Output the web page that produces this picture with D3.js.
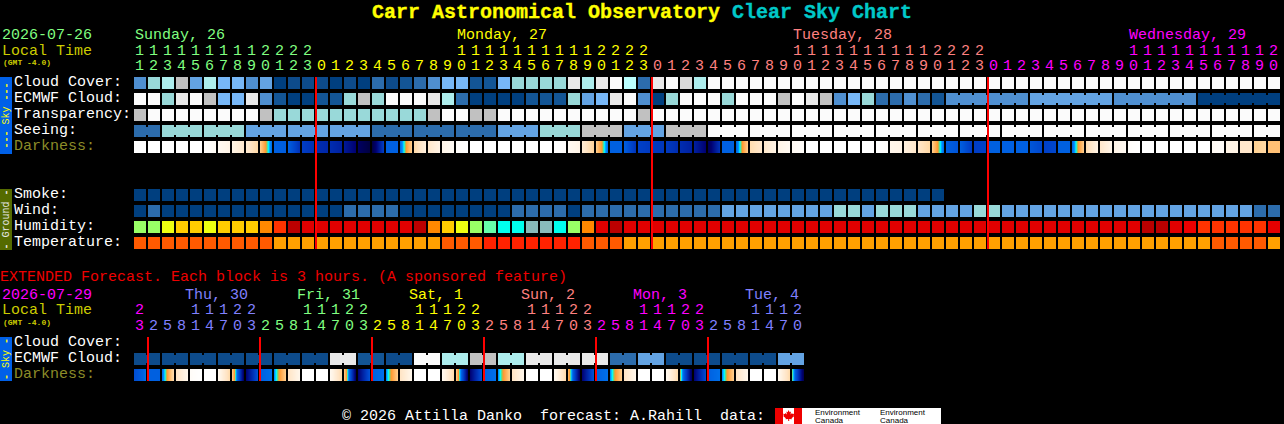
<!DOCTYPE html>
<html>
<head>
<meta charset="utf-8">
<script src="https://cdnjs.cloudflare.com/ajax/libs/d3/7.8.5/d3.min.js"></script>
<style>
html,body{margin:0;padding:0;background:#000;overflow:hidden}
svg{display:block}
text{font-family:"Liberation Mono",monospace;white-space:pre}
</style>
</head>
<body>
<svg id="c" width="1284" height="424"></svg>
<script>
// ---------- data ----------
const titleParts=[["Carr Astronomical Observatory ","#ffff00"],["Clear Sky Chart","#00c8c8"]];
const mainHours=[11,12,13,14,15,16,17,18,19,20,21,22,23,
 0,1,2,3,4,5,6,7,8,9,10,11,12,13,14,15,16,17,18,19,20,21,22,23,
 0,1,2,3,4,5,6,7,8,9,10,11,12,13,14,15,16,17,18,19,20,21,22,23,
 0,1,2,3,4,5,6,7,8,9,10,11,12,13,14,15,16,17,18,19,20];
const extHours=[23,2,5,8,11,14,17,20,23,2,5,8,11,14,17,20,23,2,5,8,11,14,17,20,23,2,5,8,11,14,17,20,23,2,5,8,11,14,17,20,23,2,5,8,11,14,17,20];
const mainDayColors=["#80ff80","#ffff00","#ff8080","#ff00ff"];
const extDayColors=["#ff00ff","#8080ff","#80ff80","#ffff00","#ff8080","#ff00ff","#8080ff"];
const mainDays=[["Sunday, 26",0,0],["Monday, 27",23,1],["Tuesday, 28",47,2],["Wednesday, 29",71,3]];
const extDays=[["Thu, 30",1],["Fri, 31",2],["Sat, 1",3],["Sun, 2",4],["Mon, 3",5],["Tue, 4",6]];
const skyLabels=["Cloud Cover:","ECMWF Cloud:","Transparency:","Seeing:","Darkness:"];
const groundLabels=["Smoke:","Wind:","Humidity:","Temperature:"];
const extLabels=["Cloud Cover:","ECMWF Cloud:","Darkness:"];
const midnightsMain=[13,37,61];
const midnightsExt=[1,9,17,25,33,41];

const cloudRange=["#003f7f","#0d4b8b","#135595","#2c6cac","#4f8fd0","#63a3e3","#77b7f7","#99d9d9","#adeded","#bbffff","#c1c1c1","#dadada","#e9e9e9","#fbfbfb"];
const windRange=["#003f7f","#2c6cac","#63a3e3","#99d9d9"];
const humDomain=[35,40,45,50,55,60,65,70,75,80,85,90];
const humRange=["#88bbbb","#00ffee","#66ffaa","#99ff66","#eeff11","#ffcc00","#ff8800","#ff3300","#ee0000","#e60000","#e10000","#bb0000"];
const tempDomain=[20,24,28];
const tempRange=["#ffa000","#ff5a00","#ff2200"];
const darkDomain=[0,1,2,3,4.4,4.7,5,5.4,6,7,8,9,10];
const darkRange=["#ffffff","#fff4e6","#ffe4c4","#ffd090","#ff9930","#88cc66","#00ffff","#0090ff","#0060e0","#0040c8","#0020a0","#000070","#000040"];

const cloud=[4,7,8,10,5,8,6,6,4,5,0,1,1,1,0,1,0,3,1,2,3,4,6,6,2,2,6,7,7,7,7,12,8,12,13,9,3,12,13,11,8,
 13,13,13,13,13,13,13,13,13,13,13,13,13,13,13,13,13,13,13,13,13,13,13,13,13,13,13,13,13,13,13,13,13,13,13,13,13,13,13,13,13];
const ecmwf=[13,13,7,12,13,10,6,6,12,4,2,0,0,2,2,7,10,7,13,13,13,12,8,3,0,0,0,0,2,2,2,7,5,6,12,13,4,0,7,13,13,13,7,13,13,13,10,13,12,10,4,6,7,3,3,4,3,2,
 4,4,4,4,4,4,5,5,5,5,5,5,4,4,4,4,4,4,0,0,0,0,0,0];
const transparency=[10,13,13,13,13,13,13,13,13,10,7,7,7,7,7,7,7,7,7,7,7,10,13,13,10,10,13,13,13,13,13,13,13,13,13,13,10,
 13,13,13,13,13,13,13,13,13,13,13,13,13,13,13,13,13,13,13,13,13,13,13,13,13,13,13,13,13,13,13,13,13,13,13,13,13,13,13,13,13,13,13,13,13];
const seeing=[3,3,7,7,7,7,7,7,5,5,5,5,5,5,5,5,5,3,3,3,3,3,3,3,3,3,5,5,5,7,7,7,10,10,10,5,5,5,10,10,10,
 13,13,13,13,13,13,13,13,13,13,13,13,13,13,13,13,13,13,13,13,13,13,13,13,13,13,13,13,13,13,13,13,13,13,13,13,13,13,13,13,13];
const seeingRuns=[2,3,3,3,3,3,3,3,3,3,3,3,3,3,3,3,3,3,3,3,3,3,3,3,3,3,3,2];
const ecmwfRuns=[1,1,1,1,1,1,1,1,1,1,1,1,1,1,1,1,1,1,1,1,1,1,1,1,1,1,1,1,1,1,1,1,1,1,1,1,1,1,1,1,1,1,1,1,1,1,1,1,1,1,1,1,1,1,1,1,1,1,6,6,6,6];
const darkFrom=[0,0,0,0,0,0,0.5,1,1.6,3,6,6,7.1,7.6,7.6,8.2,9.3,10,6,6,2.6,1.8,0.9,0.2,0,0,0,0,0,0,0,0.5,1.5,3,6,6,7,7.2,7.2,7.6,8,9.6,6,6,2.4,1.8,1,0.5,
 0,0,0,0,0,0,0.8,1.2,1.9,3,6,6,7.1,6,6,6,6.3,7,6,6,2.4,1.8,1,0.2,0,0,0,0,0,0.5,1,1.8,3,3.4];
const darkTo=[0,0,0,0,0,0.4,1,1.7,2.6,5.9,6.1,7.5,7.5,7.8,8,9,10,7,6,3,1.2,1,0.4,0,0,0,0,0,0,0,0.2,1,2.8,5.9,6,7.4,7.2,7.3,7.6,8,9,7.4,6,3,1.8,1,0.5,0.2,
 0,0,0,0,0,0.2,1,1.8,2.6,5.9,6.4,7.2,7,6,6,6,6.8,6.8,6,3,1,0.9,0.5,0,0,0,0,0,0,0.2,1,1.8,2.6,3.4,5.8];
const smoke=[0,0,0,0,0,0,0,0,0,0,0,0,0,0,0,0,0,0,0,0,0,0,0,0,0,0,0,0,0,0,0,0,0,0,0,0,0,0,0,0,0,0,0,0,0,0,0,0,0,0,0,0,0,0,0,0,0,0];
const wind=[0,1,0,0,0,0,0,0,0,0,0,0,0,0,0,1,1,1,1,0,0,0,0,0,0,0,0,1,1,1,1,0,1,1,1,1,1,1,1,1,1,1,2,2,2,2,2,2,2,2,3,3,2,3,3,3,2,2,2,2,3,3,
 2,2,2,2,2,2,2,2,2,2,2,2,2,2,2,2,2,2,1,1];
const humidity=[50,50,55,60,60,55,60,60,60,65,70,90,85,85,85,85,85,85,85,85,90,65,60,55,50,45,40,40,35,35,40,50,65,85,90,
 85,85,85,85,85,85,85,85,85,85,85,85,85,85,85,85,85,85,85,85,85,85,85,85,85,85,85,85,85,85,85,85,85,85,85,85,85,
 90,90,85,75,70,70,70,70,70,80];
const temperature=[24,24,24,24,24,24,24,24,24,24,20,20,20,20,20,20,20,20,20,20,20,20,24,24,24,28,28,28,28,28,28,28,24,24,24,
 20,20,20,20,20,20,20,20,20,20,20,20,20,20,20,20,20,20,20,20,20,20,20,20,20,20,20,20,20,20,20,20,20,20,20,20,20,20,20,20,20,20,24,24,24,24,20];
const extEcmwf=[1,1,1,1,1,1,1,1,1,1,1,1,1,1,12,12,2,2,1,1,13,13,8,8,10,10,8,8,12,12,12,12,12,12,3,3,5,5,1,1,1,1,1,1,1,1,5,5];
const extRuns=[2,2,2,2,2,2,2,2,2,2,2,2,2,2,2,2,2,2,2,2,2,2,2,2];
const extDarkFrom=[6.6,6,5.9,2,0.3,0,0.6,3,9,6,5.5,2,0,0,0.6,3,9,6,5.5,2,0,0,0.6,3,9,6,5.5,2,0,0,0.6,3.6,9,6,5.5,2,0,0,0.6,4.4,9,6,5.5,2,0,0,0.6,4.6];
const extDarkTo=[5.8,6,2.4,0.8,0,0,2.5,9.4,6.4,5.8,3,0.8,0,0,2.5,9.4,6.4,5.8,3,0.8,0,0,2.5,9.4,6.4,5.8,3,0.8,0,0,2.5,9.4,6.4,5.8,3,0.8,0,0,2.5,9.5,6.6,5.8,3,0.8,0,0,2.5,9.8];
const footerText="\u00a9 2026 Attilla Danko  forecast: A.Rahill  data:";

// ---------- scales ----------
const svg=d3.select("#c");
const x=d3.scaleLinear().domain([0,82]).range([134,1282]);
const y=d3.scaleLinear().domain([0,10]).range([77,237]);
const yExt=d3.scaleLinear().domain([0,2]).range([337,369]);
const BW=12;
const cloudColor=d3.scaleOrdinal().domain(d3.range(cloudRange.length)).range(cloudRange);
const windColor=d3.scaleOrdinal().domain(d3.range(windRange.length)).range(windRange);
const humColor=d3.scaleOrdinal().domain(humDomain).range(humRange);
const tempColor=d3.scaleOrdinal().domain(tempDomain).range(tempRange);
const darkColor=d3.scaleLinear().domain(darkDomain).range(darkRange).interpolate(d3.interpolateRgb);
const defs=svg.append("defs");
svg.append("rect").attr("width",1284).attr("height",424).attr("fill","#000");

function text(g,str,px,py,size,fill,opt){
  const t=g.append("text").attr("x",px).attr("y",py).attr("font-size",size).attr("fill",fill).text(str);
  if(opt)Object.entries(opt).forEach(([k,v])=>t.attr(k,v));
  return t;
}

function blocks(name,values,rowY,color,runs){
  const g=svg.append("g").attr("class",name);
  g.selectAll("rect.b").data(values).join("rect").attr("class","b")
    .attr("x",(d,i)=>x(i)).attr("y",rowY).attr("width",BW).attr("height",BW)
    .attr("fill",d=>color(d)).attr("shape-rendering","crispEdges");
  if(runs){
    let p=0;const links=[];
    runs.forEach(n=>{for(let k=0;k<n-1;k++)links.push(p+k);p+=n;});
    g.selectAll("rect.l").data(links).join("rect").attr("class","l")
      .attr("x",i=>x(i)+BW).attr("y",rowY+2).attr("width",x(1)-x(0)-BW).attr("height",BW-4)
      .attr("fill",i=>color(values[i])).attr("shape-rendering","crispEdges");
  }
}

function darkness(name,from,to,rowY){
  const g=svg.append("g").attr("class",name);
  from.forEach((v,i)=>{
    const id=name+"-g"+i;
    const lg=defs.append("linearGradient").attr("id",id);
    const interp=d3.scaleLinear().domain([0,1]).range([v,to[i]]);
    d3.range(0,1.0001,1/24).forEach(t=>{
      lg.append("stop").attr("offset",t).attr("stop-color",darkColor(interp(t)));
    });
    g.append("rect").attr("x",x(i)).attr("y",rowY).attr("width",BW).attr("height",BW)
      .attr("fill",`url(#${id})`).attr("shape-rendering","crispEdges");
  });
}

function hourRows(hours,palette,yTens,yUnits){
  const g=svg.append("g").attr("class","hours");
  let day=0;
  hours.forEach((h,i)=>{
    if(i>0&&h<hours[i-1])day++;
    const cx=x(i)+BW/2-0.5;
    if(h>=10)text(g,String(Math.floor(h/10)),cx,yTens,15,palette[day],{"text-anchor":"middle"});
    text(g,String(h%10),cx,yUnits,15,palette[day],{"text-anchor":"middle"});
  });
}

function sideBar(label,y0,y1,fill,tc){
  svg.append("rect").attr("x",0).attr("y",y0).attr("width",12).attr("height",y1-y0).attr("fill",fill);
  const cy=(y0+y1)/2;
  const t=svg.append("text").attr("transform",`translate(9,${cy}) rotate(-90)`).attr("text-anchor","middle")
    .attr("font-size",10).attr("fill",tc);
  label.split(/(-+)/).filter(s=>s.length).forEach(s=>{
    const sp=t.append("tspan").text(s);
    if(s[0]==="-")sp.attr("font-weight","bold");
  });
}

// ---------- title ----------
const title=svg.append("text").attr("x",372).attr("y",18).attr("font-size",20).attr("font-weight","bold");
titleParts.forEach(([s,c])=>title.append("tspan").attr("fill",c).attr("stroke",c).attr("stroke-width",0.35).text(s));

// ---------- main header ----------
text(svg,"2026-07-26",2,39,15,mainDayColors[0]);
text(svg,"Local Time",2,55,15,"#cccc00");
text(svg,"(GMT -4.0)",3,65,8,"#cccc00",{"font-weight":"bold"});
mainDays.forEach(([s,c,k])=>text(svg,s,x(c)+1,39,15,mainDayColors[k]));
hourRows(mainHours,mainDayColors,55,70);

// ---------- row labels ----------
skyLabels.forEach((s,i)=>text(svg,s,14,y(i)+9,15,s==="Darkness:"?"#8c8c28":"#fff"));
groundLabels.forEach((s,i)=>text(svg,s,14,y(i+7)+9,15,"#fff"));

// ---------- main blocks ----------
blocks("cloud",cloud,y(0),cloudColor);
blocks("ecmwf",ecmwf,y(1),cloudColor,ecmwfRuns);
blocks("transparency",transparency,y(2),cloudColor);
blocks("seeing",seeing,y(3),cloudColor,seeingRuns);
darkness("dark",darkFrom,darkTo,y(4));
blocks("smoke",smoke,y(7),cloudColor);
blocks("wind",wind,y(8),windColor);
blocks("humidity",humidity,y(9),humColor);
blocks("temperature",temperature,y(10),tempColor);

svg.append("g").selectAll("rect").data(midnightsMain).join("rect")
  .attr("x",d=>x(d)-1).attr("y",y(0)).attr("width",2).attr("height",y(10)+BW-y(0)).attr("fill","#ff0000").attr("shape-rendering","crispEdges");

sideBar("--- Sky ---",77,154,"#0060e8","#ffff00");
sideBar("- Ground -",189,250,"#556b00","#e8e8e8");

// ---------- extended ----------
text(svg,"EXTENDED Forecast. Each block is 3 hours. (A sponsored feature)",0,281,15,"#ee0000");
text(svg,"2026-07-29",2,299,15,"#ff00ff");
text(svg,"Local Time",2,314,15,"#cccc00");
text(svg,"(GMT -4.0)",3,324.5,8,"#cccc00",{"font-weight":"bold"});
extDays.forEach(([s,k],i)=>text(svg,s,x(4+8*i)-5,299,15,extDayColors[k]));
hourRows(extHours,extDayColors,314,329.5);
extLabels.forEach((s,i)=>text(svg,s,14,yExt(i)+9,15,s==="Darkness:"?"#8c8c28":"#fff"));
blocks("extEcmwf",extEcmwf,yExt(1),cloudColor,extRuns);
darkness("extDark",extDarkFrom,extDarkTo,yExt(2));
svg.append("g").selectAll("rect").data(midnightsExt).join("rect")
  .attr("x",d=>x(d)-1).attr("y",yExt(0)).attr("width",2).attr("height",yExt(2)+BW-yExt(0)).attr("fill","#ff0000").attr("shape-rendering","crispEdges");
sideBar("- Sky -",337,381,"#0060e8","#ffff00");

// ---------- footer ----------
text(svg,footerText,342,420,15,"#fff");
svg.append("rect").attr("x",775).attr("y",408).attr("width",166).attr("height",16).attr("fill","#fff");
svg.append("rect").attr("x",775).attr("y",408).attr("width",8).attr("height",16).attr("fill","#ee0000");
svg.append("rect").attr("x",794).attr("y",408).attr("width",8).attr("height",16).attr("fill","#ee0000");
svg.append("path").attr("d","M788.5 410l1.2 2.2 1.3-.6-.5 2.8 1.6-1.4.4 1 1.7-.3-.6 1.9.7.4-2.7 2.2.3 1.1-2.7-.4v2h-1v-2l-2.7.4.3-1.1-2.7-2.2.7-.4-.6-1.9 1.7.3.4-1 1.6 1.4-.5-2.8 1.3.6z").attr("fill","#ee0000");
[815,880].forEach(px=>{
  svg.append("text").attr("x",px).attr("y",415).attr("font-size",8).attr("fill","#000").attr("style",'font-family:"Liberation Sans",sans-serif').text("Environment");
  svg.append("text").attr("x",px).attr("y",423).attr("font-size",8).attr("fill","#000").attr("style",'font-family:"Liberation Sans",sans-serif').text("Canada");
});
</script>
</body>
</html>
